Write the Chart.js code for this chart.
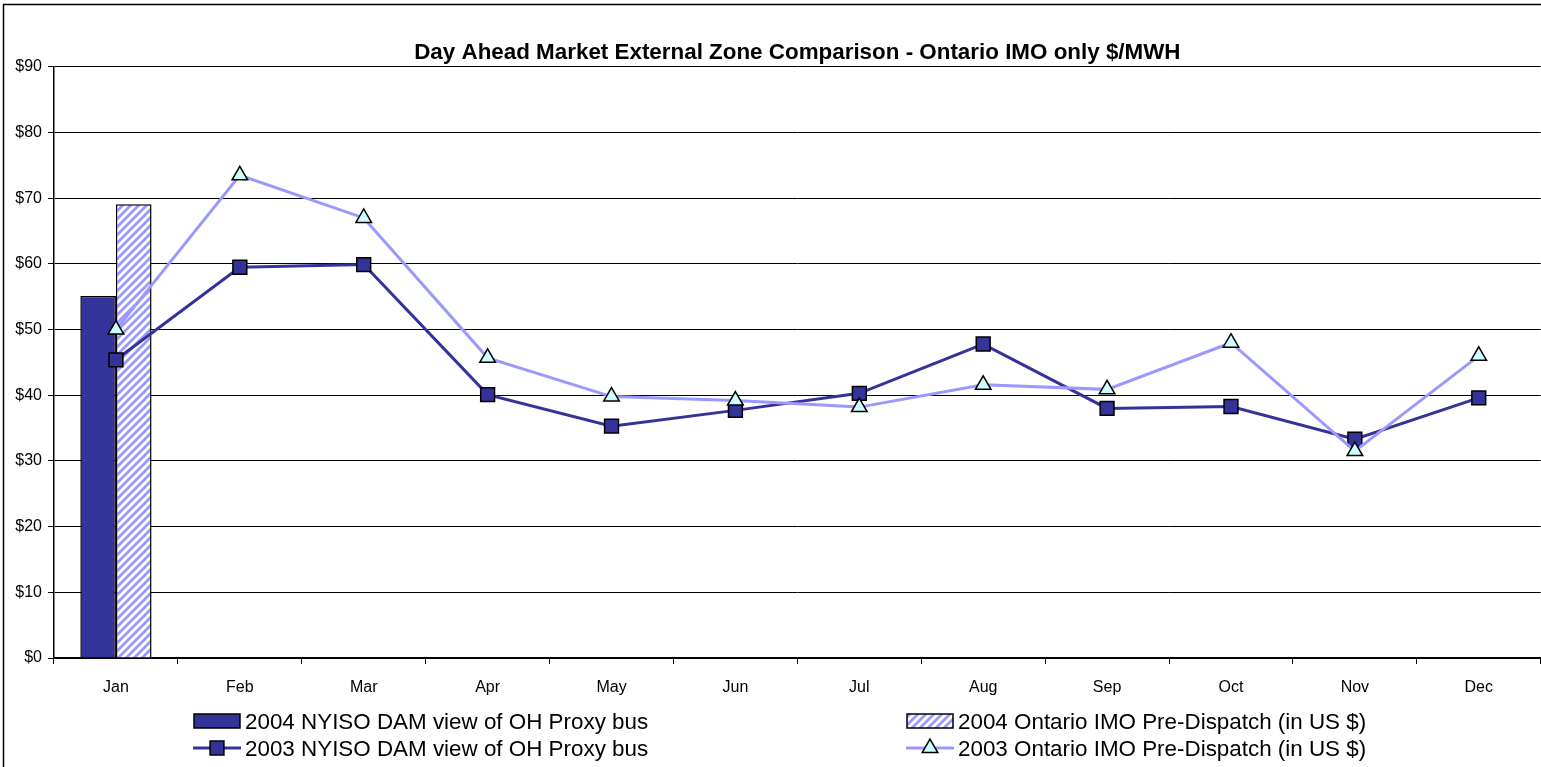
<!DOCTYPE html>
<html>
<head>
<meta charset="utf-8">
<script src="https://cdn.jsdelivr.net/npm/chart.js@4/dist/chart.umd.min.js"></script>
<style>
  html, body { margin: 0; padding: 0; background: #fff; overflow: hidden; }
  /* a bit wider than the window: the line markers make Chart.js keep ~11px free on the right,
     while the Excel plot area runs right up to the picture edge */
  #wrap { width: 1552px; height: 767px; position: relative; }
  canvas { display: block; }
</style>
</head>
<body>
<div id="wrap"><canvas id="damChart"></canvas></div>
<script>
// data
const months = ['Jan', 'Feb', 'Mar', 'Apr', 'May', 'Jun', 'Jul', 'Aug', 'Sep', 'Oct', 'Nov', 'Dec'];
const nyiso2004 = [55.1, null, null, null, null, null, null, null, null, null, null, null];
const ontario2004 = [69.1, null, null, null, null, null, null, null, null, null, null, null];
const nyiso2003 = [45.4, 59.5, 59.9, 40.1, 35.3, 37.7, 40.3, 47.8, 38.0, 38.3, 33.3, 39.6];
const ontario2003 = [50.0, 73.5, 67.0, 45.7, 39.8, 39.2, 38.2, 41.6, 40.9, 48.0, 31.5, 46.0];
const yTicks = [0, 10, 20, 30, 40, 50, 60, 70, 80, 90];

const seriesLabels = [
    '2004 NYISO DAM view of OH Proxy bus',
    '2004 Ontario IMO Pre-Dispatch (in US $)',
    '2003 NYISO DAM view of OH Proxy bus',
    '2003 Ontario IMO Pre-Dispatch (in US $)'
];

// diagonal hatch used by the 2004 Ontario bar
function makeHatch() {
    const c = document.createElement('canvas');
    c.width = 8; c.height = 8;
    const g = c.getContext('2d');
    g.fillStyle = '#fff';
    g.fillRect(0, 0, 8, 8);
    g.strokeStyle = '#9999ff';
    g.lineWidth = 2.8;
    g.beginPath();
    g.moveTo(-2, 2); g.lineTo(2, -2);
    g.moveTo(0, 8); g.lineTo(8, 0);
    g.moveTo(6, 10); g.lineTo(10, 6);
    g.stroke();
    return g.createPattern(c, 'repeat');
}
const hatch = makeHatch();

// white background + the outer frame (left and top edges are visible)
const framePlugin = {
    id: 'frame',
    beforeDraw(chart) {
        const ctx = chart.ctx;
        ctx.save();
        ctx.fillStyle = '#fff';
        ctx.fillRect(0, 0, chart.width, chart.height);
        ctx.strokeStyle = '#000';
        ctx.lineWidth = 1.5;
        ctx.beginPath();
        ctx.moveTo(3.5, chart.height);
        ctx.lineTo(3.5, 4.5);
        ctx.lineTo(chart.width, 4.5);
        ctx.stroke();
        ctx.restore();
    }
};

// two-column legend like the Excel one
const legendPlugin = {
    id: 'excelLegend',
    afterDraw(chart) {
        const ctx = chart.ctx;
        const cols = [{ x0: 194, x1: 240, tx: 245 }, { x0: 907, x1: 953, tx: 958 }];
        const rows = [721, 748];
        ctx.save();
        chart.data.datasets.forEach((ds, i) => {
            const col = cols[i % 2];
            const y = rows[Math.floor(i / 2)];
            if (ds.type === 'line') {
                ctx.strokeStyle = ds.borderColor;
                ctx.lineWidth = 3;
                ctx.beginPath();
                ctx.moveTo(col.x0 - 1, y);
                ctx.lineTo(col.x1 + 1, y);
                ctx.stroke();
                ctx.fillStyle = ds.pointBackgroundColor;
                ctx.strokeStyle = ds.pointBorderColor;
                ctx.lineWidth = ds.pointBorderWidth;
                Chart.helpers.drawPoint(ctx, {
                    pointStyle: ds.pointStyle,
                    radius: ds.pointRadius,
                    borderWidth: ds.pointBorderWidth
                }, (col.x0 + col.x1) / 2, y);
            } else {
                ctx.fillStyle = ds.backgroundColor;
                ctx.fillRect(col.x0, y - 7, col.x1 - col.x0, 14);
                ctx.strokeStyle = '#000';
                ctx.lineWidth = 1.5;
                ctx.strokeRect(col.x0, y - 7, col.x1 - col.x0, 14);
            }
            ctx.fillStyle = '#000';
            ctx.font = '22.4px "Liberation Sans", Arial, sans-serif';
            ctx.textBaseline = 'middle';
            ctx.textAlign = 'left';
            ctx.fillText(ds.label, col.tx, y + 1.5);
        });
        ctx.restore();
    }
};

const ctx = document.getElementById('damChart');
new Chart(ctx, {
    type: 'bar',
    data: {
        labels: months,
        datasets: [{
            label: seriesLabels[0],
            data: nyiso2004,
            backgroundColor: '#333399',
            borderColor: '#000',
            borderWidth: 1.5,
            order: 3
        }, {
            label: seriesLabels[1],
            data: ontario2004,
            backgroundColor: hatch,
            borderColor: '#000',
            borderWidth: 1.5,
            order: 3
        }, {
            type: 'line',
            label: seriesLabels[2],
            data: nyiso2003,
            borderColor: '#333399',
            borderWidth: 3,
            tension: 0,
            pointStyle: 'rect',
            pointRadius: 9.8,
            pointBackgroundColor: '#333399',
            pointBorderColor: '#000',
            pointBorderWidth: 1.5,
            order: 2
        }, {
            type: 'line',
            label: seriesLabels[3],
            data: ontario2003,
            borderColor: '#9999ff',
            borderWidth: 3,
            tension: 0,
            pointStyle: 'triangle',
            pointRadius: 9,
            pointBackgroundColor: '#ccffff',
            pointBorderColor: '#000',
            pointBorderWidth: 1.5,
            order: 1
        }]
    },
    options: {
        responsive: true,
        maintainAspectRatio: false,
        animation: false,
        events: [],
        categoryPercentage: 0.575,
        barPercentage: 1,
        layout: { padding: { left: 4, right: 0, top: 0, bottom: 71 } },
        plugins: {
            legend: { display: false },
            tooltip: { enabled: false },
            title: {
                display: true,
                fullSize: false,
                text: 'Day Ahead Market External Zone Comparison - Ontario IMO only $/MWH',
                color: '#000',
                font: { family: '"Liberation Sans", Arial, sans-serif', size: 22.4, weight: 'bold' },
                padding: { top: 39, bottom: 1 }
            }
        },
        scales: {
            x: {
                offset: true,
                grid: { offset: true, drawOnChartArea: false, drawTicks: true, tickLength: 6, color: '#000' },
                border: { color: '#000', width: 1.5 },
                ticks: {
                    color: '#000',
                    padding: 14,
                    maxRotation: 0,
                    font: { family: '"Liberation Sans", Arial, sans-serif', size: 16 }
                },
                afterFit(scale) { scale.height = 38; }
            },
            y: {
                min: 0,
                max: 90,
                afterBuildTicks(scale) { scale.ticks = yTicks.map(v => ({ value: v })); },
                grid: { color: '#000', lineWidth: 1, tickLength: 6 },
                border: { color: '#000', width: 1.5 },
                ticks: {
                    color: '#000',
                    padding: 6,
                    font: { family: '"Liberation Sans", Arial, sans-serif', size: 16 },
                    callback: v => '$' + v
                },
                afterFit(scale) { scale.width = 50; }
            }
        }
    },
    plugins: [framePlugin, legendPlugin]
});
</script>
</body>
</html>
